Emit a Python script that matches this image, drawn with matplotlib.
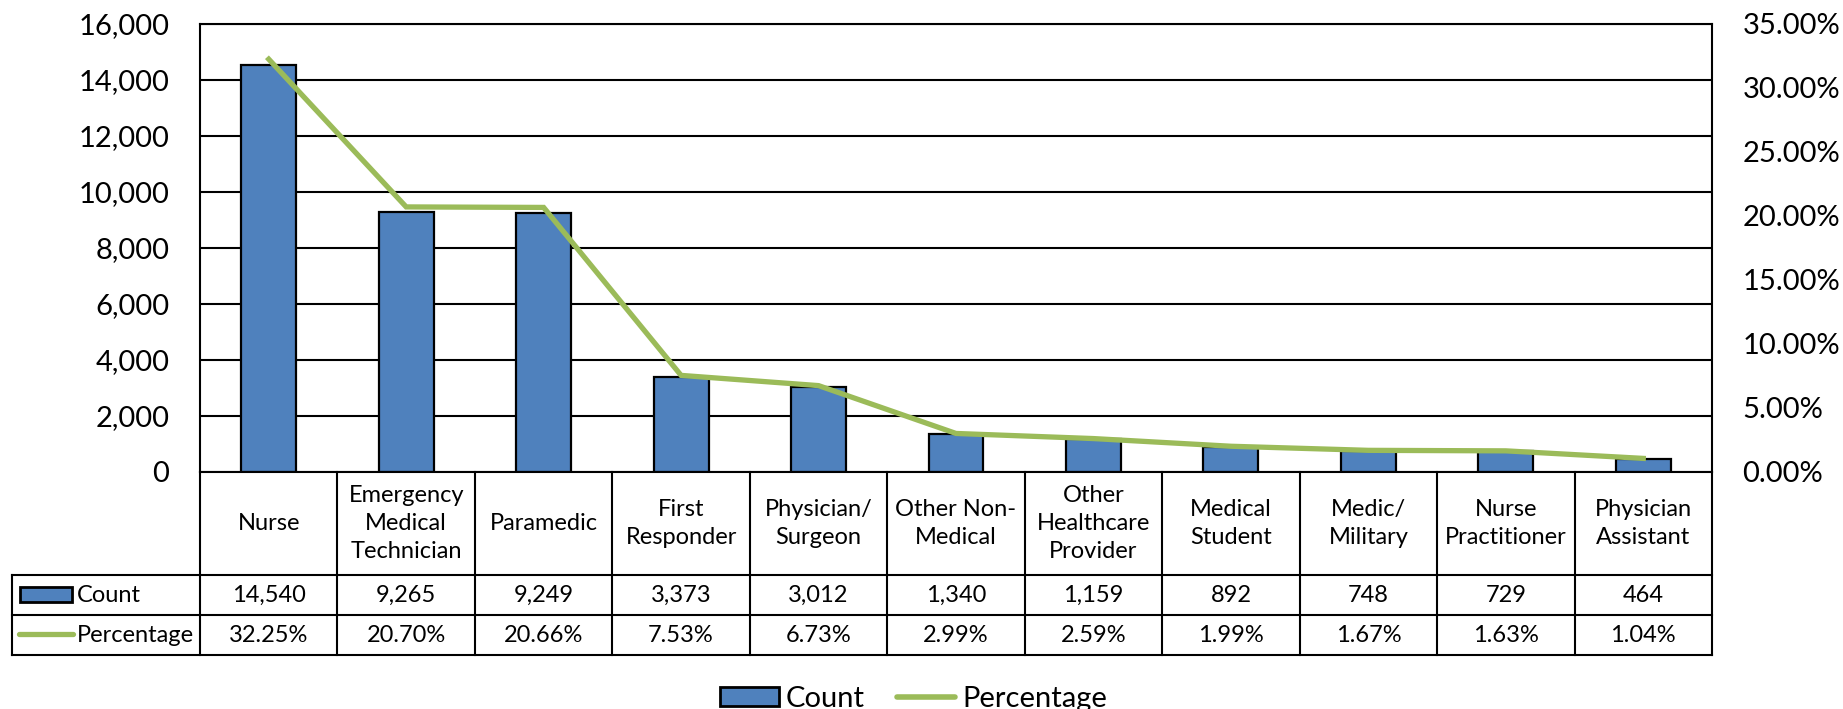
import numpy as np
import matplotlib
matplotlib.use("Agg")
import matplotlib.pyplot as plt
from matplotlib.patches import Patch, Rectangle
from matplotlib.lines import Line2D
from matplotlib.ticker import FuncFormatter, MultipleLocator

plt.rcParams['font.family'] = ['Lato', 'DejaVu Sans']

categories = ["Nurse", "Emergency\nMedical\nTechnician", "Paramedic", "First\nResponder",
              "Physician/\nSurgeon", "Other Non-\nMedical", "Other\nHealthcare\nProvider",
              "Medical\nStudent", "Medic/\nMilitary", "Nurse\nPractitioner", "Physician\nAssistant"]
counts = [14540, 9265, 9249, 3373, 3012, 1340, 1159, 892, 748, 729, 464]
percentages = [32.25, 20.70, 20.66, 7.53, 6.73, 2.99, 2.59, 1.99, 1.67, 1.63, 1.04]

bar_color = '#4F81BD'
line_color = '#9BBB59'

W, H = 1843, 709
fig = plt.figure(figsize=(W / 100, H / 100), dpi=100)

# plot area in pixels
left, right, top, bottom = 200, 1712, 24, 471.7
ax = fig.add_axes([left / W, 1 - bottom / H, (right - left) / W, (bottom - top) / H])
x = np.arange(len(categories))
ax.set_xlim(-0.5, len(categories) - 0.5)
ax.set_ylim(0, 16000)
ax.yaxis.set_major_locator(MultipleLocator(2000))
ax.yaxis.set_major_formatter(FuncFormatter(lambda v, p: f"{int(v):,}"))
ax.set_axisbelow(True)
ax.yaxis.grid(True, color='black', lw=1.5)
ax.bar(x, counts, width=0.4, color=bar_color, edgecolor='black', lw=1.6, zorder=2)
ax.set_xticks([])
ax.tick_params(axis='y', length=0, pad=22, labelsize=21)
for s in ax.spines.values():
    s.set_color('black')
    s.set_linewidth(1.5)

ax2 = ax.twinx()
ax2.set_ylim(0, 35)
ax2.yaxis.set_major_locator(MultipleLocator(5))
ax2.yaxis.set_major_formatter(FuncFormatter(lambda v, p: f"{v:.2f}%"))
ax2.tick_params(axis='y', length=0, pad=22, labelsize=21)
ax2.plot(x, percentages, color=line_color, lw=3.8, solid_joinstyle='miter', zorder=3)
for s in ax2.spines.values():
    s.set_visible(False)

# data table under the plot
ph = bottom - top
cw = (right - left) / len(categories)
def px2x(p):
    return -0.5 + (p - left) / cw
def py2y(p):
    return -(p - bottom) / ph

trans = ax.get_xaxis_transform()
y1, y2, y3 = py2y(575), py2y(615), py2y(655)
xl = px2x(12)
xr = len(categories) - 0.5
lkw = dict(color='black', lw=1.5, transform=trans, clip_on=False)
for b in np.arange(-0.5, len(categories), 1.0):
    ax.plot([b, b], [0, y3], **lkw)
ax.plot([xl, xl], [y1, y3], **lkw)
for yy in (y1, y2, y3):
    ax.plot([xl, xr], [yy, yy], **lkw)

fs = 17
for i, cat in enumerate(categories):
    ax.text(i, y1 / 2, cat, ha='center', va='center', fontsize=fs,
            linespacing=1.4, transform=trans)
    ax.text(i, (y1 + y2) / 2, f"{counts[i]:,}", ha='center', va='center',
            fontsize=fs, transform=trans)
    ax.text(i, (y2 + y3) / 2, f"{percentages[i]:.2f}%", ha='center', va='center',
            fontsize=fs, transform=trans)

ax.add_patch(Rectangle((px2x(20), py2y(602)), px2x(72) - px2x(20), py2y(587) - py2y(602),
                       facecolor=bar_color, edgecolor='black', lw=2,
                       transform=trans, clip_on=False))
ax.text(px2x(77), (y1 + y2) / 2, "Count", ha='left', va='center', fontsize=fs, transform=trans)
ax.add_line(Line2D([px2x(19), px2x(73)], [py2y(634), py2y(634)], color=line_color, lw=3.8,
                   solid_capstyle='round', transform=trans, clip_on=False))
ax.text(px2x(77), (y2 + y3) / 2, "Percentage", ha='left', va='center', fontsize=fs, transform=trans)

handles = [Patch(facecolor=bar_color, edgecolor='black', lw=2),
           Line2D([0], [0], color=line_color, lw=4, solid_capstyle='round')]
fig.legend(handles, ["Count", "Percentage"], ncol=2, frameon=False, fontsize=21,
           loc='center', bbox_to_anchor=(914 / W, 1 - 699 / H),
           handlelength=2.0, handleheight=0.65, handletextpad=0.25, columnspacing=1.1,
           borderpad=0, borderaxespad=0)

fig.savefig("out.png", dpi=100)
